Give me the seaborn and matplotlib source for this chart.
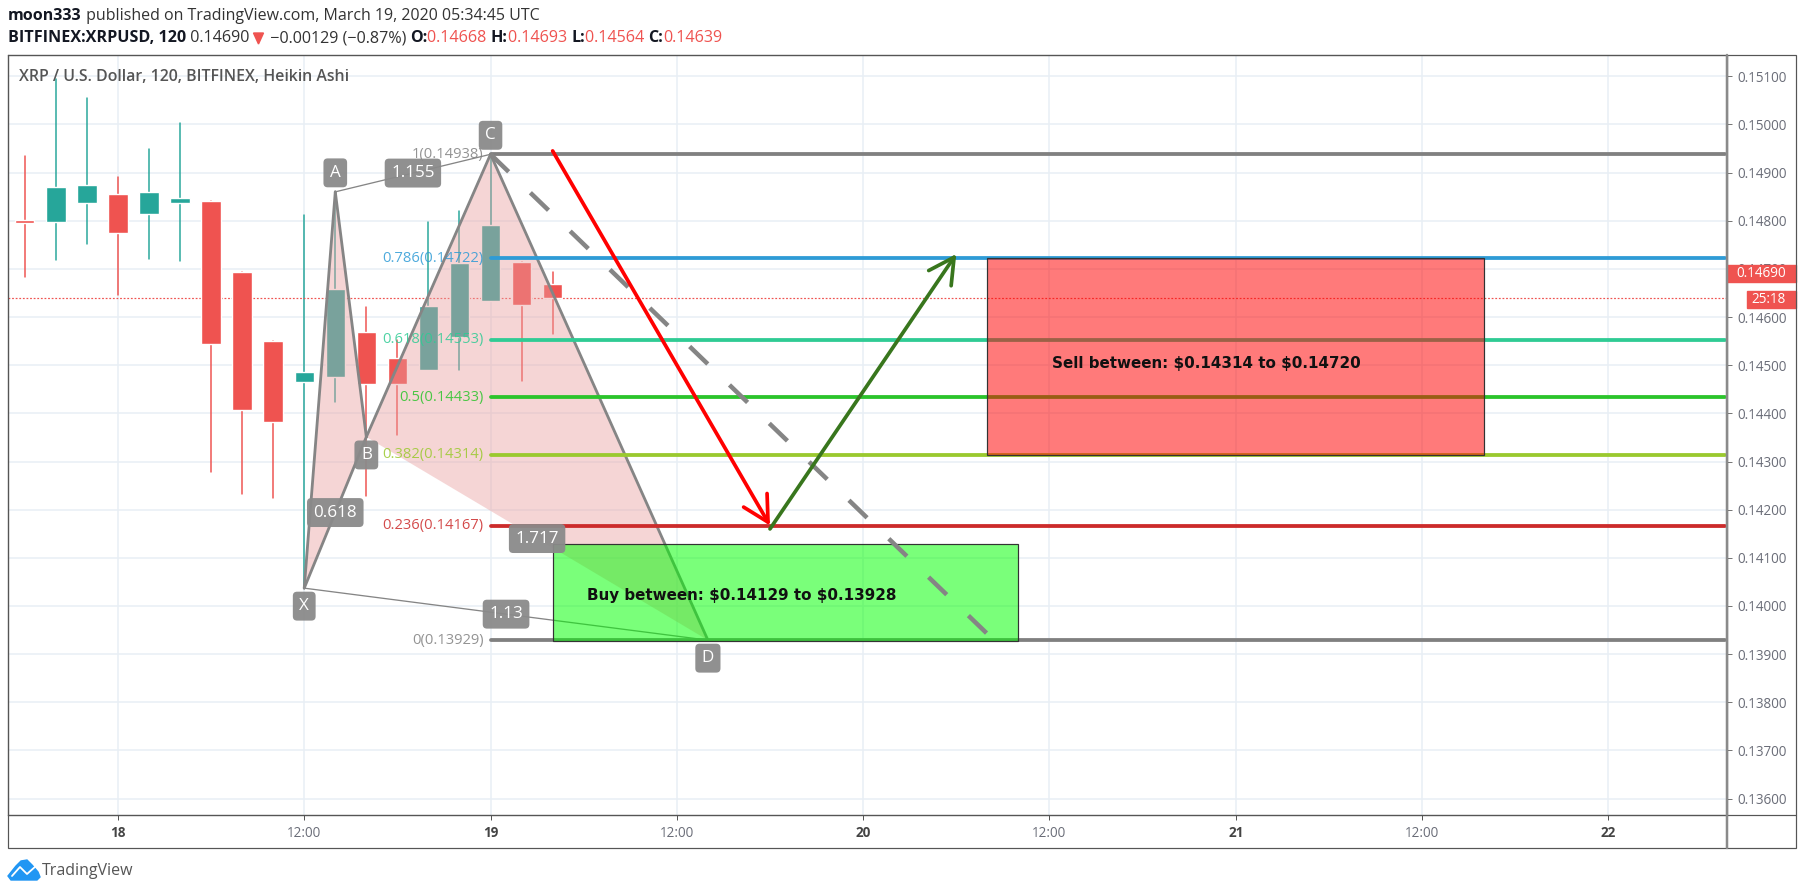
import numpy as np
import pandas as pd
import seaborn as sns
import matplotlib
matplotlib.use("Agg")
import matplotlib.pyplot as plt
from matplotlib.patches import Rectangle, Polygon

W, H = 1805, 894
PX = 0.72  # one pixel in points at dpi 100

# %% Data: hours are counted from March 18 00:00
bar_hours = [-6, -4, -2, 0, 2, 4, 6, 8, 10, 12, 14, 16, 18, 20, 22, 24, 26, 28]
bar_open = [.14802, .14798, .14836, .14856, .14813, .14836, .14840, .14693, .14550,
            .14465, .14476, .14568, .14514, .14489, .14559, .14634, .14714, .14668]
bar_close = [.14795, .14871, .14874, .14775, .14859, .14847, .14543, .14406, .14382,
             .14485, .14659, .14460, .14462, .14623, .14713, .14791, .14626, .14639]
bar_high = [.14935, .15095, .15054, .14890, .14950, .15002, .14840, .14693, .14550,
            .14812, .14860, .14620, .14552, .14797, .14820, .14938, .14714, .14693]
bar_low = [.14684, .14718, .14751, .14646, .14720, .14717, .14278, .14233, .14224,
           .14037, .14424, .14228, .14355, .14489, .14489, .14634, .14468, .14564]
last_close = .14639
last_price = .14690

pattern_names = ["X", "A", "B", "C", "D"]
pattern_hours = [12, 14, 16, 24, 38]
pattern_prices = [.14037, .14860, .14351, .14938, .13929]
ratio_legs = [("A", "C", "1.155"), ("X", "B", "0.618"), ("B", "D", "1.717"), ("X", "D", "1.13")]

fib_ratios = ["1", "0.786", "0.618", "0.5", "0.382", "0.236", "0"]
fib_prices = [.14938, .14722, .14553, .14433, .14314, .14167, .13929]
fib_colors = ["#808080", "#2e9bd6", "#2fcb94", "#2bc42b", "#9ac92e", "#cc2b2b", "#808080"]
fib_start, fib_end = 24, 103.5

sell_hours = [56, 88]
sell_prices = [.14314, .14722]
buy_hours = [28, 58]
buy_prices = [.13928, .14129]
sell_text = r"Sell between: \$0.14314 to \$0.14720"
buy_text = r"Buy between: \$0.14129 to \$0.13928"

down_hours = [28, 42]
down_prices = [.14945, .14167]
up_hours = [42, 54]
up_prices = [.14160, .14731]
dash_hours = [24, 56]
dash_prices = [.14938, .13942]

day_ticks = [0, 12, 24, 36, 48, 60, 72, 84, 96]
day_labels = ["18", "12:00", "19", "12:00", "20", "12:00", "21", "12:00", "22"]
price_ticks = [.136, .137, .138, .139, .140, .141, .142, .143, .144, .145, .146, .147, .148, .149, .150, .151]

# %% Figure set up
sns.set_theme(style="white")
plt.rcParams["font.family"] = ["Open Sans", "DejaVu Sans"]

GREEN, RED = "#26a69a", "#ef5350"
GRID = "#e8eff5"
GREY = "#858585"

fig = plt.figure(figsize=(W / 100, H / 100), dpi=100, facecolor="white")
ax = fig.add_axes([8 / W, 1 - 815 / H, (1727 - 8) / W, (815 - 55) / H])

# %% Candles
candles = pd.DataFrame({"hour": bar_hours, "open": bar_open, "close": bar_close,
                        "high": bar_high, "low": bar_low})
candles["side"] = np.where(candles["close"] >= candles["open"], "up", "down")
wicks = candles.melt(id_vars=["hour", "side"], value_vars=["high", "low"], value_name="price")
sns.lineplot(data=wicks, x="hour", y="price", hue="side", units="hour", estimator=None,
             palette={"up": GREEN, "down": RED}, lw=1.5 * PX, legend=False, ax=ax, zorder=2)
body_low = candles[["open", "close"]].min(axis=1)
body_high = candles[["open", "close"]].max(axis=1)
ax.bar(candles["hour"], body_high - body_low, bottom=body_low, width=1.25,
       color=candles["side"].map({"up": GREEN, "down": RED}), zorder=2.5)
ax.axhline(last_close, color=RED, lw=1.2 * PX, ls=(0, (1.5, 1.5)), zorder=2.2)

# %% Harmonic pattern
pts = {n: (h, p) for n, h, p in zip(pattern_names, pattern_hours, pattern_prices)}
for tri in ("XAB", "BCD"):
    ax.fill([pts[k][0] for k in tri], [pts[k][1] for k in tri], color=(233 / 255, 159 / 255, 159 / 255),
            alpha=.43, lw=0, zorder=3)

thick = pd.DataFrame({"leg": list("ooppqqrrss"),
                      "pt": list("XAABXBBCCD")})
thick["hour"] = thick["pt"].map(lambda k: pts[k][0])
thick["price"] = thick["pt"].map(lambda k: pts[k][1])
sns.lineplot(data=thick, x="hour", y="price", units="leg", estimator=None, sort=False,
             color=GREY, lw=2.8 * PX, legend=False, ax=ax, zorder=4)
thin = pd.DataFrame({"leg": list("oopp"), "pt": list("ACXD")})
thin["hour"] = thin["pt"].map(lambda k: pts[k][0])
thin["price"] = thin["pt"].map(lambda k: pts[k][1])
sns.lineplot(data=thin, x="hour", y="price", units="leg", estimator=None, sort=False,
             color=GREY, lw=1.3 * PX, legend=False, ax=ax, zorder=4)

# %% Fibonacci retracement
fib = pd.DataFrame({"ratio": fib_ratios * 2, "price": fib_prices * 2,
                    "hour": [fib_start] * len(fib_ratios) + [fib_end] * len(fib_ratios)})
sns.lineplot(data=fib, x="hour", y="price", hue="ratio", units="ratio", estimator=None,
             palette=dict(zip(fib_ratios, fib_colors)), lw=3.8 * PX, legend=False, ax=ax, zorder=4)
for r, p, c in zip(fib_ratios, fib_prices, fib_colors):
    ax.annotate(f"{r}({p:.5f})", (fib_start, p), xytext=(-7 * PX, 0), textcoords="offset points",
                ha="right", va="center", color=c, alpha=.85, fontsize=14.7 * PX, zorder=4.5)

# %% Buy and sell zones
for hrs, prc, col in ((sell_hours, sell_prices, (1, 0, 0, .52)), (buy_hours, buy_prices, (0, 1, 0, .52))):
    ax.add_patch(Rectangle((hrs[0], prc[0]), hrs[1] - hrs[0], prc[1] - prc[0], facecolor=col,
                           edgecolor="#333333", lw=1.2 * PX, zorder=5))
ax.annotate(sell_text, (sell_hours[0], np.mean(sell_prices)), xytext=(65 * PX, -6.5 * PX),
            textcoords="offset points", family="DejaVu Sans", fontweight="bold", fontsize=15.1 * PX,
            va="center", color="#111111", zorder=6)
ax.annotate(buy_text, (buy_hours[0], np.mean(buy_prices)), xytext=(34 * PX, -3 * PX),
            textcoords="offset points", family="DejaVu Sans", fontweight="bold", fontsize=15.1 * PX,
            va="center", color="#111111", zorder=6)

# Trade path
sns.lineplot(x=dash_hours, y=dash_prices, color=GREY, lw=4.5 * PX, sort=False,
             linestyle=(0, (5.6, 6.7)), ax=ax, zorder=6)
for hrs, prc, col in ((down_hours, down_prices, "#ff0000"), (up_hours, up_prices, "#38761d")):
    ax.annotate("", xy=(hrs[1], prc[1]), xytext=(hrs[0], prc[0]), zorder=7,
                arrowprops=dict(arrowstyle="->,head_length=1.4,head_width=.75", mutation_scale=13,
                                color=col, lw=3.7 * PX, shrinkA=0, shrinkB=0))

# Pattern labels go on top of everything else on the chart
box = dict(boxstyle="round,pad=0.38,rounding_size=0.25", fc="#8a8a8a", ec="none", alpha=.95)
for n, h, p in zip(pattern_names, pattern_hours, pattern_prices):
    off = 19 if n in "AC" else -18
    ax.annotate(n, (h, p), xytext=(0, off * PX), textcoords="offset points", ha="center", va="center",
                color="white", fontsize=17 * PX, bbox=box, zorder=8)
for a, b, txt in ratio_legs:
    ax.text((pts[a][0] + pts[b][0]) / 2, (pts[a][1] + pts[b][1]) / 2, txt, ha="center", va="center",
            color="white", fontsize=17 * PX, bbox=box, zorder=8)

ax.text(11 / 1719, 1 - 22 / 760, "XRP / U.S. Dollar, 120, BITFINEX, Heikin Ashi", transform=ax.transAxes,
        va="center", color="#555555", fontsize=15.9 * PX, fontweight="semibold", zorder=9)

# %% Axes dressing, after the seaborn calls so their labels are gone
ax.set_xlabel("")
ax.set_ylabel("")
ax.set_xlim(-7.08, 103.64)
ax.set_ylim(.135659, .151442)
ax.set_axisbelow(True)
ax.grid(True, color=GRID, lw=1.5 * PX)
ax.set_xticks(day_ticks)
ax.set_xticklabels(day_labels)
ax.set_yticks(price_ticks)
ax.set_yticklabels([f"{p:.5f}" for p in price_ticks])
ax.yaxis.tick_right()
ax.tick_params(axis="y", length=5 * PX, width=1 * PX, color="#777777", pad=5 * PX,
               labelsize=13.5 * PX, labelcolor="#6a6d78", right=True, left=False)
ax.tick_params(axis="x", length=5 * PX, width=1 * PX, color="#555555", pad=6 * PX,
               labelsize=13.5 * PX, labelcolor="#6a6d78", bottom=True)
for lab in ax.get_xticklabels():
    if ":" not in lab.get_text():
        lab.set_color("#444444")
        lab.set_fontweight("bold")
for s in ax.spines.values():
    s.set_color("#555555")
    s.set_linewidth(1.2 * PX)

# Price tags on the right axis
tag_h = 17 / 760 * (.151442 - .135659)
for price, x0, txt in ((last_price, 0, "0.14690"), (last_close - .00002, 20, "25:18")):
    ax.add_patch(Rectangle((1 + x0 / 1719, price - tag_h / 2), (69 - x0) / 1719, tag_h,
                           transform=ax.get_yaxis_transform(), color=RED, clip_on=False, zorder=10))
    ax.text(1 + 59 / 1719, price, txt, transform=ax.get_yaxis_transform(), ha="right", va="center",
            color="white", fontsize=13.5 * PX, zorder=11)

# %% Page furniture, in pixel coordinates
page = fig.add_axes([0, 0, 1, 1], facecolor="none")
page.set_xlim(0, W)
page.set_ylim(H, 0)
page.axis("off")
page.add_patch(Rectangle((8, 55), 1788, 793, fc="none", ec="#555555", lw=1.2 * PX))
page.plot([8, 1796], [815, 815], color="#555555", lw=1.2 * PX)
page.plot([1727, 1727], [55, 848], color="#8a8a8a", lw=2.5 * PX)

renderer = fig.canvas.get_renderer()


def text_runs(x, y, runs, size):
    # lay coloured pieces of text one after the other
    for txt, col, weight in runs:
        t = page.text(x, y, txt, color=col, fontweight=weight, fontsize=size * PX, va="center")
        x = page.transData.inverted().transform(t.get_window_extent(renderer).get_points())[1, 0]
    return x


DARK = "#131722"
text_runs(8, 16, [("moon333", DARK, "bold"),
                  (" published on TradingView.com, March 19, 2020 05:34:45 UTC", "#333333", "normal")], 16)
x_end = text_runs(8, 38.5, [("BITFINEX:XRPUSD, 120", DARK, "bold"), (" 0.14690", "#333333", "normal")], 16.1)
page.add_patch(Polygon([[x_end + 4, 33], [x_end + 14, 33], [x_end + 9, 44]], color=RED))
text_runs(x_end + 16, 38.5, [(" \u22120.00129 (\u22120.87%) ", "#333333", "normal"),
                             ("O:", DARK, "bold"), ("0.14668 ", RED, "normal"),
                             ("H:", DARK, "bold"), ("0.14693 ", RED, "normal"),
                             ("L:", DARK, "bold"), ("0.14564 ", RED, "normal"),
                             ("C:", DARK, "bold"), ("0.14639", RED, "normal")], 16.1)

# Logo
BLUE = "#2196f3"
page.add_patch(Polygon([[8, 876], [16, 866], [21, 861], [27, 860], [32, 865], [38, 872], [40, 877],
                        [37, 880], [11, 880]], color=BLUE))
page.plot([12, 20, 27, 36], [876, 867, 874, 866], color="white", lw=1.3)
page.text(42, 871, "TradingView", color="#555555", fontsize=16 * PX, va="center")

fig.savefig("out.png", dpi=100, facecolor="white")
